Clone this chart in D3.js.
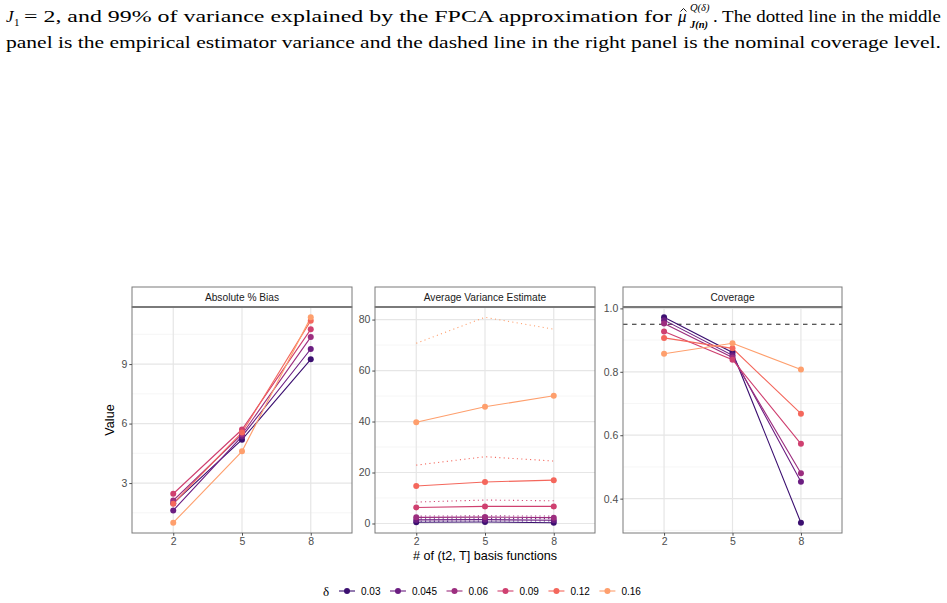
<!DOCTYPE html>
<html>
<head>
<meta charset="utf-8">
<script src="https://cdn.jsdelivr.net/npm/d3@7"></script>
<style>
  body { margin: 0; background: #fff; }
  svg { display: block; }
</style>
</head>
<body>
<div id="chart"></div>
<script>
// data
const xLevels = ["2", "5", "8"];
const deltas = ["0.03", "0.045", "0.06", "0.09", "0.12", "0.16"];

// Absolute % Bias, one row per delta, one value per x level
const biasValues = [
  [1.98, 5.19, 9.24],
  [1.62, 5.35, 9.76],
  [2.12, 5.45, 10.36],
  [2.46, 5.70, 10.75],
  [1.96, 5.55, 11.19],
  [1.00, 4.60, 11.36]
];
// Average Variance Estimate (solid)
const varEstimate = [
  [0.5, 0.6, 0.3],
  [1.4, 1.5, 1.3],
  [2.4, 2.5, 2.3],
  [6.3, 6.7, 6.7],
  [14.7, 16.3, 17.0],
  [39.7, 45.8, 50.1]
];
// empirical estimator variance (dotted)
const varEmpirical = [
  [0.9, 1.0, 1.0],
  [1.8, 1.9, 1.9],
  [2.9, 3.0, 2.9],
  [8.4, 9.2, 8.9],
  [22.9, 26.2, 24.5],
  [70.7, 80.9, 76.2]
];
// Coverage
const coverage = [
  [0.972, 0.861, 0.324],
  [0.963, 0.852, 0.453],
  [0.952, 0.845, 0.480],
  [0.927, 0.838, 0.573],
  [0.907, 0.874, 0.668],
  [0.857, 0.890, 0.807]
];
const nominalCoverage = 0.95;

const biasTicks = [3, 6, 9];
const varTicks = [0, 20, 40, 60, 80];
const covTicks = [0.4, 0.6, 0.8, 1.0];

const W = 947, H = 603;
const colors = deltas.map((d, i) => d3.interpolateMagma(0.2 + i * 0.12));
const sans = "'Liberation Sans', Arial, sans-serif";
const serif = "'Liberation Serif', 'DejaVu Serif', serif";
const tickSize = 10.5, stripSize = 10.2, titleSize = 12.6;

const svg = d3.select("#chart").append("svg")
  .attr("width", W).attr("height", H);

// ---- caption text above the figure
const cap = svg.append("g").attr("fill", "#000").attr("font-family", serif);
cap.append("text").attr("x", 6).attr("y", 22).attr("font-size", 17)
  .attr("font-style", "italic").text("J");
cap.append("text").attr("x", 14).attr("y", 26).attr("font-size", 11).text("1");
cap.append("text").attr("x", 24).attr("y", 22).attr("font-size", 17)
  .attr("textLength", 648).attr("lengthAdjust", "spacingAndGlyphs")
  .text("= 2, and 99% of variance explained by the FPCA approximation for");
cap.append("text").attr("x", 678).attr("y", 22).attr("font-size", 17)
  .attr("font-style", "italic").text("\u03BC");
// circumflex over mu
cap.append("path").attr("d", "M680.5,11.5 L683.5,8.5 L686.5,11.5")
  .attr("fill", "none").attr("stroke", "#000").attr("stroke-width", 0.9);
cap.append("text").attr("x", 690).attr("y", 11).attr("font-size", 10.5)
  .attr("font-style", "italic").text("Q(\u03B4)");
cap.append("text").attr("x", 690).attr("y", 28).attr("font-size", 10.5)
  .attr("font-style", "italic").attr("font-weight", "bold").text("J(n)");
cap.append("text").attr("x", 713).attr("y", 22).attr("font-size", 17)
  .attr("textLength", 228).attr("lengthAdjust", "spacingAndGlyphs")
  .text(". The dotted line in the middle");
cap.append("text").attr("x", 6).attr("y", 48).attr("font-size", 17)
  .attr("textLength", 935).attr("lengthAdjust", "spacingAndGlyphs")
  .text("panel is the empirical estimator variance and the dashed line in the right panel is the nominal coverage level.");

// ---- panels
const stripTop = 287, plotTop = 307, plotBottom = 533;

function expanded(vals) {
  const lo = d3.min(vals), hi = d3.max(vals), r = hi - lo;
  return [lo - 0.05 * r, hi + 0.05 * r];
}

function minorBreaks(ticks, dom) {
  const step = ticks[1] - ticks[0];
  const out = [];
  for (let t = ticks[0] - step / 2; t <= dom[1]; t += step) {
    if (t >= dom[0]) out.push(t);
  }
  return out;
}

const panels = [
  { title: "Absolute % Bias", x0: 132, x1: 352, ticks: biasTicks, fmt: d3.format("d"),
    solid: biasValues, dotted: null, hline: null },
  { title: "Average Variance Estimate", x0: 375, x1: 595, ticks: varTicks, fmt: d3.format("d"),
    solid: varEstimate, dotted: varEmpirical, hline: null },
  { title: "Coverage", x0: 623, x1: 842, ticks: covTicks, fmt: d3.format(".1f"),
    solid: coverage, dotted: null, hline: nominalCoverage }
];

panels.forEach(p => {
  let all = p.solid.flat();
  if (p.dotted) all = all.concat(p.dotted.flat());
  if (p.hline != null) all.push(p.hline);
  const dom = expanded(all);

  const x = d3.scalePoint().domain(xLevels).range([p.x0, p.x1]).padding(0.6);
  const y = d3.scaleLinear().domain(dom).range([plotBottom, plotTop]);

  const g = svg.append("g");

  // background + grid
  g.append("rect").attr("x", p.x0).attr("y", plotTop)
    .attr("width", p.x1 - p.x0).attr("height", plotBottom - plotTop).attr("fill", "#fff");

  g.selectAll(".minor").data(minorBreaks(p.ticks, dom)).enter().append("line")
    .attr("x1", p.x0).attr("x2", p.x1)
    .attr("y1", d => y(d)).attr("y2", d => y(d))
    .attr("stroke", "#F2F2F2").attr("stroke-width", 0.7);
  g.selectAll(".majorY").data(p.ticks).enter().append("line")
    .attr("x1", p.x0).attr("x2", p.x1)
    .attr("y1", d => y(d)).attr("y2", d => y(d))
    .attr("stroke", "#E6E6E6").attr("stroke-width", 1.2);
  g.selectAll(".majorX").data(xLevels).enter().append("line")
    .attr("x1", d => x(d)).attr("x2", d => x(d))
    .attr("y1", plotTop).attr("y2", plotBottom)
    .attr("stroke", "#E6E6E6").attr("stroke-width", 1.2);

  const line = d3.line().x((d, i) => x(xLevels[i])).y(d => y(d));

  if (p.hline != null) {
    g.append("line").attr("x1", p.x0).attr("x2", p.x1)
      .attr("y1", y(p.hline)).attr("y2", y(p.hline))
      .attr("stroke", "#222").attr("stroke-width", 1.2)
      .attr("stroke-dasharray", "4.5,4.5");
  }

  if (p.dotted) {
    p.dotted.forEach((row, k) => {
      g.append("path").attr("d", line(row)).attr("fill", "none")
        .attr("stroke", colors[k]).attr("stroke-width", 1.1)
        .attr("stroke-dasharray", "1.1,3.3");
    });
  }

  p.solid.forEach((row, k) => {
    g.append("path").attr("d", line(row)).attr("fill", "none")
      .attr("stroke", colors[k]).attr("stroke-width", 1.1);
  });
  p.solid.forEach((row, k) => {
    g.selectAll(null).data(row).enter().append("circle")
      .attr("cx", (d, i) => x(xLevels[i])).attr("cy", d => y(d))
      .attr("r", 3).attr("fill", colors[k]);
  });

  // panel border
  g.append("rect").attr("x", p.x0).attr("y", plotTop)
    .attr("width", p.x1 - p.x0).attr("height", plotBottom - plotTop)
    .attr("fill", "none").attr("stroke", "#7a7a7a").attr("stroke-width", 1);

  // strip
  g.append("rect").attr("x", p.x0).attr("y", stripTop)
    .attr("width", p.x1 - p.x0).attr("height", plotTop - stripTop)
    .attr("fill", "#fff").attr("stroke", "#7a7a7a").attr("stroke-width", 1);
  g.append("line").attr("x1", p.x0).attr("x2", p.x1)
    .attr("y1", plotTop).attr("y2", plotTop)
    .attr("stroke", "#7a7a7a").attr("stroke-width", 2);
  g.append("text").attr("x", (p.x0 + p.x1) / 2).attr("y", (stripTop + plotTop) / 2 + 3.5)
    .attr("text-anchor", "middle").attr("font-family", sans).attr("font-size", stripSize)
    .attr("fill", "#1A1A1A").text(p.title);

  // axes
  const ya = g.append("g").attr("transform", `translate(${p.x0},0)`)
    .call(d3.axisLeft(y).tickValues(p.ticks).tickFormat(p.fmt).tickSize(2.7).tickPadding(2));
  const xa = g.append("g").attr("transform", `translate(0,${plotBottom})`)
    .call(d3.axisBottom(x).tickSize(2.7).tickPadding(2));
  [ya, xa].forEach(a => {
    a.select(".domain").remove();
    a.selectAll(".tick line").attr("stroke", "#4d4d4d");
    a.selectAll(".tick text").attr("fill", "#4D4D4D")
      .attr("font-family", sans).attr("font-size", tickSize);
  });
});

// axis titles
svg.append("text").attr("transform", `translate(114,${(plotTop + plotBottom) / 2}) rotate(-90)`)
  .attr("text-anchor", "middle").attr("font-family", sans).attr("font-size", titleSize)
  .attr("fill", "#000").text("Value");
svg.append("text").attr("x", 485).attr("y", 560)
  .attr("text-anchor", "middle").attr("font-family", sans).attr("font-size", titleSize)
  .attr("fill", "#000").text("# of (t2, T] basis functions");

// legend
const leg = svg.append("g").attr("transform", "translate(0,591)");
leg.append("text").attr("x", 323).attr("y", 4.5).attr("font-family", serif)
  .attr("font-size", 13).attr("fill", "#000").text("\u03B4");
let lx = 338;
deltas.forEach((d, k) => {
  const item = leg.append("g");
  item.append("line").attr("x1", lx + 1).attr("x2", lx + 17).attr("y1", 0).attr("y2", 0)
    .attr("stroke", colors[k]).attr("stroke-width", 1.1);
  item.append("circle").attr("cx", lx + 9).attr("cy", 0).attr("r", 3).attr("fill", colors[k]);
  const t = item.append("text").attr("x", lx + 23).attr("y", 3.5)
    .attr("font-family", sans).attr("font-size", 10).attr("fill", "#000").text(d);
  lx += 23 + t.node().getComputedTextLength() + 8.5;
});
</script>
</body>
</html>
